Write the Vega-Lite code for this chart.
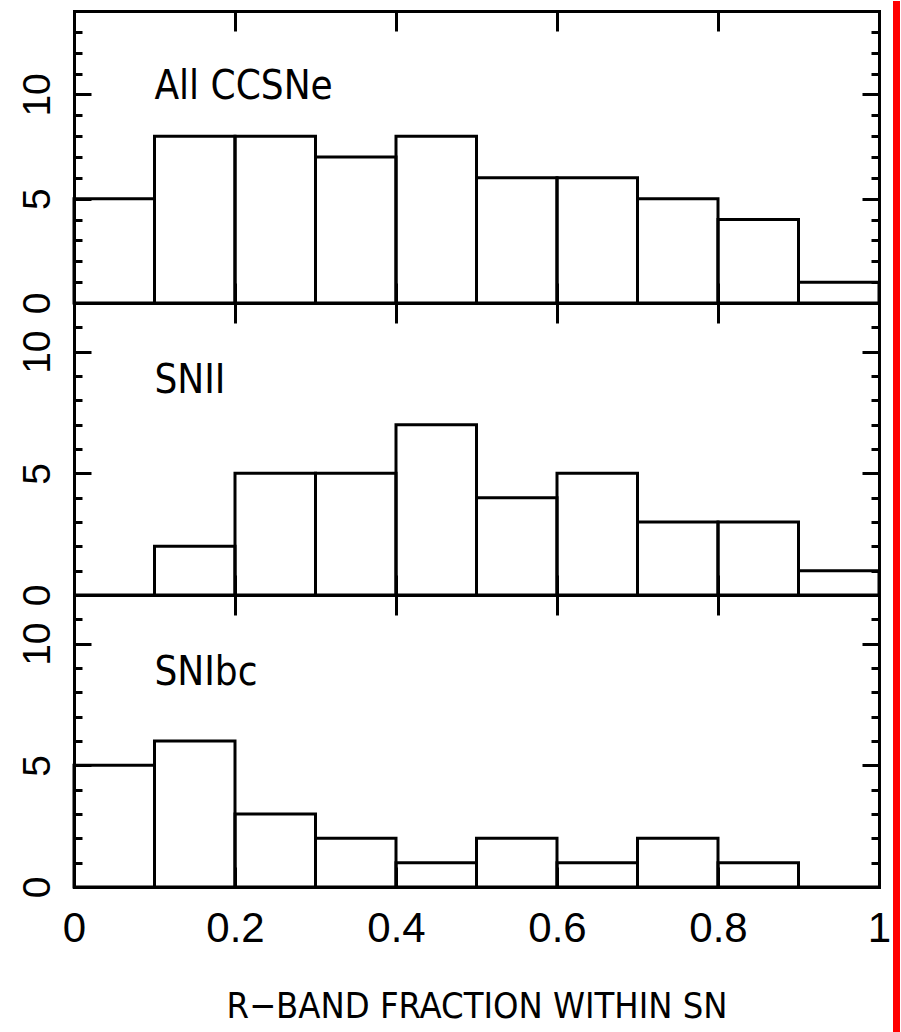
{
  "$schema": "https://vega.github.io/schema/vega-lite/v6.json",
  "autosize": {"type": "pad"},
  "padding": {"left": 8, "top": 0, "right": 0, "bottom": 0},
  "background": "white",
  "config": {
    "view": {"stroke": null},
    "font": "Liberation Sans",
    "axis": {"domainColor": "black", "domainWidth": 3, "tickColor": "black", "tickWidth": 3, "grid": false, "labelColor": "black", "labelFont": "Liberation Sans", "titleFont": "Liberation Sans Narrow, DejaVu Sans Condensed, sans-serif", "titleColor": "black", "domainCap": "square"}
  },
  "datasets": {
    "bins": [
      {"panel": "All", "start": 0.0, "end": 0.1, "count": 5},
      {"panel": "All", "start": 0.1, "end": 0.2, "count": 8},
      {"panel": "All", "start": 0.2, "end": 0.3, "count": 8},
      {"panel": "All", "start": 0.3, "end": 0.4, "count": 7},
      {"panel": "All", "start": 0.4, "end": 0.5, "count": 8},
      {"panel": "All", "start": 0.5, "end": 0.6, "count": 6},
      {"panel": "All", "start": 0.6, "end": 0.7, "count": 6},
      {"panel": "All", "start": 0.7, "end": 0.8, "count": 5},
      {"panel": "All", "start": 0.8, "end": 0.9, "count": 4},
      {"panel": "All", "start": 0.9, "end": 1.0, "count": 1},
      {"panel": "II", "start": 0.0, "end": 0.1, "count": 0},
      {"panel": "II", "start": 0.1, "end": 0.2, "count": 2},
      {"panel": "II", "start": 0.2, "end": 0.3, "count": 5},
      {"panel": "II", "start": 0.3, "end": 0.4, "count": 5},
      {"panel": "II", "start": 0.4, "end": 0.5, "count": 7},
      {"panel": "II", "start": 0.5, "end": 0.6, "count": 4},
      {"panel": "II", "start": 0.6, "end": 0.7, "count": 5},
      {"panel": "II", "start": 0.7, "end": 0.8, "count": 3},
      {"panel": "II", "start": 0.8, "end": 0.9, "count": 3},
      {"panel": "II", "start": 0.9, "end": 1.0, "count": 1},
      {"panel": "Ibc", "start": 0.0, "end": 0.1, "count": 5},
      {"panel": "Ibc", "start": 0.1, "end": 0.2, "count": 6},
      {"panel": "Ibc", "start": 0.2, "end": 0.3, "count": 3},
      {"panel": "Ibc", "start": 0.3, "end": 0.4, "count": 2},
      {"panel": "Ibc", "start": 0.4, "end": 0.5, "count": 1},
      {"panel": "Ibc", "start": 0.5, "end": 0.6, "count": 2},
      {"panel": "Ibc", "start": 0.6, "end": 0.7, "count": 1},
      {"panel": "Ibc", "start": 0.7, "end": 0.8, "count": 2},
      {"panel": "Ibc", "start": 0.8, "end": 0.9, "count": 1},
      {"panel": "Ibc", "start": 0.9, "end": 1.0, "count": 0}
    ],
    "labels": [
      {"panel": "All", "x": 0.1, "y": 9.8, "label": "All CCSNe"},
      {"panel": "II", "x": 0.1, "y": 8.3, "label": "SNII"},
      {"panel": "Ibc", "x": 0.1, "y": 8.3, "label": "SNIbc"}
    ]
  },
  "hconcat": [
    {
      "vconcat": [
        {"width": 805, "height": 10, "data": {"values": [{}]}, "mark": {"type": "rule", "opacity": 0}, "encoding": {}},
        {
          "width": 805, "height": 292,
          "layer": [
            {
              "data": {"name": "bins"},
              "transform": [{"filter": "datum.panel === 'All'"}],
              "mark": {"type": "rect", "filled": false, "color": "black", "strokeWidth": 3, "strokeJoin": "miter"},
              "encoding": {
                "x": {"field": "start", "type": "quantitative", "scale": {"domain": [0, 1], "nice": false, "zero": false},
                  "axis": {"orient": "bottom", "values": [0.2, 0.4, 0.6, 0.8], "tickSize": -20, "labels": false, "title": null}},
                "x2": {"field": "end"},
                "y": {"field": "count", "type": "quantitative", "scale": {"domain": [0, 14], "nice": false},
                  "axis": {"orient": "left", "values": [0,1,2,3,4,5,6,7,8,9,10,11,12,13,14], "tickSize": {"condition": {"test": "datum.value % 5 === 0", "value": -17}, "value": -8}, "labelExpr": "datum.value % 5 === 0 ? datum.label : ''", "labelAngle": 270, "labelAlign": "center", "labelBaseline": "alphabetic", "labelFontSize": 39, "labelPadding": 42, "labelOverlap": false, "labelBound": false, "format": "d", "title": null}},
                "y2": {"datum": 0}
              }
            },
            {
              "data": {"name": "labels"},
              "transform": [{"filter": "datum.panel === 'All'"}],
              "mark": {"type": "text", "align": "left", "baseline": "alphabetic", "fontSize": 40, "font": "Liberation Sans Narrow, DejaVu Sans Condensed, sans-serif", "color": "black"},
              "encoding": {
                "x": {"field": "x", "type": "quantitative", "axis": {"orient": "top", "values": [0.2, 0.4, 0.6, 0.8], "tickSize": -20, "labels": false, "title": null}},
                "y": {"field": "y", "type": "quantitative", "axis": {"orient": "right", "values": [0,1,2,3,4,5,6,7,8,9,10,11,12,13,14], "tickSize": {"condition": {"test": "datum.value % 5 === 0", "value": -17}, "value": -8}, "labels": false, "title": null}},
                "text": {"field": "label"}
              }
            }
          ],
          "resolve": {"axis": {"x": "independent", "y": "independent"}}
        },
        {
          "width": 805, "height": 292,
          "layer": [
            {
              "data": {"name": "bins"},
              "transform": [{"filter": "datum.panel === 'II'"}],
              "mark": {"type": "rect", "filled": false, "color": "black", "strokeWidth": 3, "strokeJoin": "miter"},
              "encoding": {
                "x": {"field": "start", "type": "quantitative", "scale": {"domain": [0, 1], "nice": false, "zero": false},
                  "axis": {"orient": "bottom", "values": [0.2, 0.4, 0.6, 0.8], "tickSize": -20, "labels": false, "title": null}},
                "x2": {"field": "end"},
                "y": {"field": "count", "type": "quantitative", "scale": {"domain": [0, 12], "nice": false},
                  "axis": {"orient": "left", "values": [0,1,2,3,4,5,6,7,8,9,10,11,12], "tickSize": {"condition": {"test": "datum.value % 5 === 0", "value": -17}, "value": -8}, "labelExpr": "datum.value % 5 === 0 ? datum.label : ''", "labelAngle": 270, "labelAlign": "center", "labelBaseline": "alphabetic", "labelFontSize": 39, "labelPadding": 42, "labelOverlap": false, "labelBound": false, "format": "d", "title": null}},
                "y2": {"datum": 0}
              }
            },
            {
              "data": {"name": "labels"},
              "transform": [{"filter": "datum.panel === 'II'"}],
              "mark": {"type": "text", "align": "left", "baseline": "alphabetic", "fontSize": 40, "font": "Liberation Sans Narrow, DejaVu Sans Condensed, sans-serif", "color": "black"},
              "encoding": {
                "x": {"field": "x", "type": "quantitative", "axis": {"orient": "top", "values": [0.2, 0.4, 0.6, 0.8], "tickSize": -20, "labels": false, "title": null}},
                "y": {"field": "y", "type": "quantitative", "axis": {"orient": "right", "values": [0,1,2,3,4,5,6,7,8,9,10,11,12], "tickSize": {"condition": {"test": "datum.value % 5 === 0", "value": -17}, "value": -8}, "labels": false, "title": null}},
                "text": {"field": "label"}
              }
            }
          ],
          "resolve": {"axis": {"x": "independent", "y": "independent"}}
        },
        {
          "width": 805, "height": 292,
          "layer": [
            {
              "data": {"name": "bins"},
              "transform": [{"filter": "datum.panel === 'Ibc'"}],
              "mark": {"type": "rect", "filled": false, "color": "black", "strokeWidth": 3, "strokeJoin": "miter"},
              "encoding": {
                "x": {"field": "start", "type": "quantitative", "scale": {"domain": [0, 1], "nice": false, "zero": false},
                  "axis": {"orient": "bottom", "values": [0, 0.2, 0.4, 0.6, 0.8, 1], "tickSize": -20, "format": "~g", "labelFontSize": 42, "labelPadding": 41, "labelFlush": false, "labelOverlap": false, "labelBound": false, "title": "R−BAND FRACTION WITHIN SN", "titleFontSize": 36, "titleFontWeight": "normal", "titlePadding": 40}},
                "x2": {"field": "end"},
                "y": {"field": "count", "type": "quantitative", "scale": {"domain": [0, 12], "nice": false},
                  "axis": {"orient": "left", "values": [0,1,2,3,4,5,6,7,8,9,10,11,12], "tickSize": {"condition": {"test": "datum.value % 5 === 0", "value": -17}, "value": -8}, "labelExpr": "datum.value % 5 === 0 ? datum.label : ''", "labelAngle": 270, "labelAlign": "center", "labelBaseline": "alphabetic", "labelFontSize": 39, "labelPadding": 42, "labelOverlap": false, "labelBound": false, "format": "d", "title": null}},
                "y2": {"datum": 0}
              }
            },
            {
              "data": {"name": "labels"},
              "transform": [{"filter": "datum.panel === 'Ibc'"}],
              "mark": {"type": "text", "align": "left", "baseline": "alphabetic", "fontSize": 40, "font": "Liberation Sans Narrow, DejaVu Sans Condensed, sans-serif", "color": "black"},
              "encoding": {
                "x": {"field": "x", "type": "quantitative", "axis": {"orient": "top", "values": [0.2, 0.4, 0.6, 0.8], "tickSize": -20, "labels": false, "title": null}},
                "y": {"field": "y", "type": "quantitative", "axis": {"orient": "right", "values": [0,1,2,3,4,5,6,7,8,9,10,11,12], "tickSize": {"condition": {"test": "datum.value % 5 === 0", "value": -17}, "value": -8}, "labels": false, "title": null}},
                "text": {"field": "label"}
              }
            }
          ],
          "resolve": {"axis": {"x": "independent", "y": "independent"}}
        }
      ],
      "spacing": 0,
      "bounds": "flush"
    },
    {
      "width": 7, "height": 1032,
      "data": {"values": [{}]},
      "view": {"fill": "red", "stroke": null},
      "mark": {"type": "rule", "opacity": 0},
      "encoding": {}
    }
  ],
  "spacing": 1,
  "bounds": "full"
}
